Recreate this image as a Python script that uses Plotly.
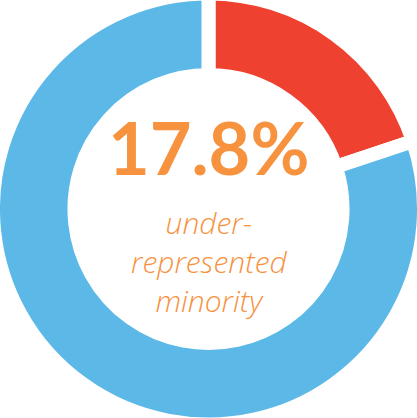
import plotly.graph_objects as go

labels = ["Under-represented minority", "Other"]
values = [19.9, 80.1]
colors = ["#EF412F", "#5BB8E7"]
headline = "17.8%"
caption = ["under-", "represented", "minority"]

fig = go.Figure(go.Pie(
    labels=labels,
    values=values,
    hole=0.622,
    sort=False,
    direction="clockwise",
    rotation=0,
    marker=dict(colors=colors, line=dict(color="white", width=14)),
    textinfo="none",
    hoverinfo="label+percent",
    showlegend=False,
    domain=dict(x=[0, 1], y=[0, 1]),
))

fig.add_annotation(
    text=headline, x=0.5, y=0.6435, xref="paper", yref="paper",
    xanchor="center", yanchor="middle", showarrow=False,
    font=dict(family="Lato", size=72, color="#F7923F", weight="bold"),
)
fig.add_annotation(
    text="<br>".join(caption), x=0.5, y=0.379, xref="paper", yref="paper",
    xanchor="center", yanchor="middle", showarrow=False,
    font=dict(family="Open Sans", size=30,
              color="#F7923F", weight=300, style="italic"),
)

fig.update_layout(
    width=431, height=432,
    margin=dict(l=0, r=0, t=0, b=0),
    paper_bgcolor="white", plot_bgcolor="white",
)
fig.write_html(
    "out.html",
    config={"displayModeBar": False},
    post_script=(
        "document.body.style.margin='-7px';"
        "document.body.style.overflow='hidden';"
        "document.documentElement.style.overflow='hidden';"
    ),
)
